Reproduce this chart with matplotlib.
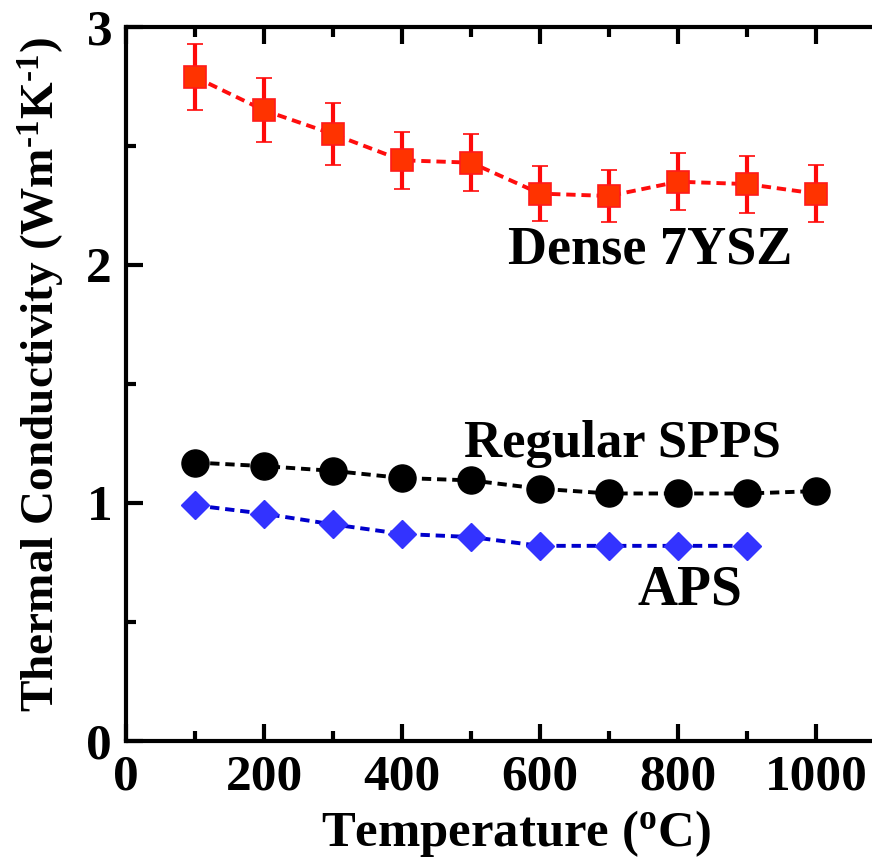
import matplotlib
matplotlib.use("Agg")
import matplotlib.pyplot as plt
from matplotlib.ticker import MultipleLocator

temps = [100, 200, 300, 400, 500, 600, 700, 800, 900, 1000]
dense_k = [2.79, 2.65, 2.55, 2.44, 2.43, 2.30, 2.29, 2.35, 2.34, 2.30]
dense_err = [0.14, 0.135, 0.13, 0.12, 0.12, 0.115, 0.11, 0.12, 0.12, 0.12]
spps_k = [1.17, 1.155, 1.135, 1.105, 1.095, 1.06, 1.04, 1.04, 1.04, 1.05]
aps_temps = [100, 200, 300, 400, 500, 600, 700, 800, 900]
aps_k = [0.99, 0.955, 0.91, 0.87, 0.857, 0.82, 0.82, 0.82, 0.82]

plt.rcParams['font.family'] = ['Liberation Serif', 'DejaVu Serif']
plt.rcParams['font.weight'] = 'bold'
plt.rcParams['mathtext.fontset'] = 'custom'
plt.rcParams['mathtext.rm'] = 'Liberation Serif:bold'
plt.rcParams['mathtext.bf'] = 'Liberation Serif:bold'

fig = plt.figure(figsize=(8.72, 8.66), dpi=100)
ax = fig.add_axes([126/872, 1-741/866, 1-126/872, 714/866])

dash = (0, (2.4, 1.5))
ax.errorbar(temps, dense_k, yerr=dense_err, color='#ff0d0d', ecolor='#ff0a0a',
            elinewidth=3, capsize=5.5, capthick=3, linestyle=dash, linewidth=2.8,
            marker='s', markersize=16, markerfacecolor='#ff3300',
            markeredgecolor='#ff1a1a', markeredgewidth=1.2, zorder=3)
ax.plot(temps, spps_k, color='black', linestyle=dash, linewidth=2.8,
        marker='o', markersize=19.5, zorder=3)
ax.plot(aps_temps, aps_k, color='#0000cc', linestyle=dash, linewidth=2.8,
        marker='D', markersize=14, markerfacecolor='#3333ff',
        markeredgecolor='#3333ff', zorder=3)

ax.text(760, 2.06, 'Dense 7YSZ', fontsize=39, fontweight='bold', ha='center', va='center')
ax.text(719, 1.25, 'Regular SPPS', fontsize=38, fontweight='bold', ha='center', va='center')
ax.text(817, 0.634, 'APS', fontsize=40, fontweight='bold', ha='center', va='center')

ax.set_xlim(0, 1081)
ax.set_ylim(0, 3)
ax.xaxis.set_major_locator(MultipleLocator(200))
ax.xaxis.set_minor_locator(MultipleLocator(100))
ax.yaxis.set_major_locator(MultipleLocator(1))
ax.yaxis.set_minor_locator(MultipleLocator(0.5))
ax.tick_params(which='both', direction='in', top=True, right=False, width=3)
ax.tick_params(which='major', length=12, labelsize=37, pad=10)
ax.tick_params(which='minor', length=7)
for lab in ax.get_xticklabels() + ax.get_yticklabels():
    lab.set_fontweight('bold')
for s in ['left', 'bottom', 'top']:
    ax.spines[s].set_linewidth(3)
ax.spines['right'].set_visible(False)

ax.set_xlabel('Temperature ($\\mathbf{^{o}}$C)', fontsize=36.5, fontweight='bold')
ax.set_ylabel('Thermal Conductivity (Wm$\\mathbf{^{\\text{-1}}}$K$\\mathbf{^{\\text{-1}}}$)',
              fontsize=34, fontweight='bold')
ax.xaxis.set_label_coords(0.523, -0.094)
ax.yaxis.set_label_coords(-0.079, 0.513)

fig.savefig('out.png', dpi=100)
